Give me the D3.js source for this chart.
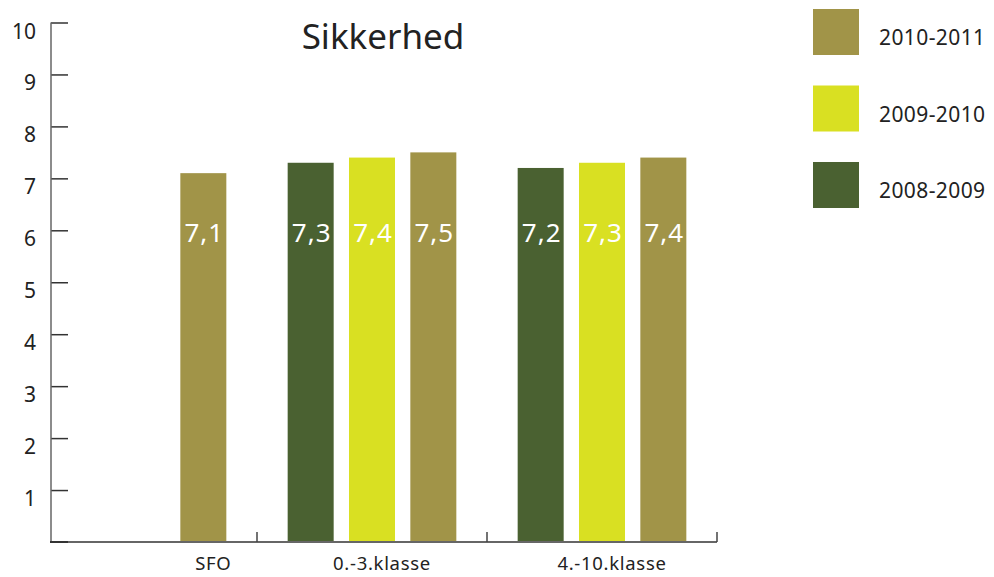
<!DOCTYPE html>
<html>
<head>
<meta charset="utf-8">
<script src="https://cdn.jsdelivr.net/npm/d3@7"></script>
<style>
  body { margin: 0; background: #fff; }
  svg { display: block; font-family: "Noto Sans", sans-serif; }
</style>
</head>
<body>
<div id="chart"></div>
<script>
let categories = ["SFO", "0.-3.klasse", "4.-10.klasse"];
let series = ["2008-2009", "2009-2010", "2010-2011"];
let legendOrder = ["2010-2011", "2009-2010", "2008-2009"];
let colors = ["#4a6131", "#d9e022", "#a19448"];
// null = no bar for that year
let values2008 = [null, 7.3, 7.2];
let values2009 = [null, 7.4, 7.3];
let values2010 = [7.1, 7.5, 7.4];
let yTicks = [1, 2, 3, 4, 5, 6, 7, 8, 9, 10];

let width = 994;
let height = 577;
let axisX = 51;
let axisY = 542;

let chart = d3.select("#chart")
  .append("svg")
  .attr("width", width)
  .attr("height", height);

let yscale = d3.scaleLinear().domain([0, 10]).range([axisY, 22.5]);

let x0 = d3.scaleBand().domain(categories).range([27, 717]);
let x1 = d3.scaleBand().domain(series).range([0, x0.bandwidth()])
  .paddingInner(0.25).paddingOuter(0.5);
let color = d3.scaleOrdinal().domain(series).range(colors);

let rows = [];
categories.forEach(function(c, i) {
  [values2008, values2009, values2010].forEach(function(arr, j) {
    if (arr[i] != null) rows.push({cat: c, s: series[j], v: arr[i]});
  });
});

// bars
chart.selectAll("rect.bar")
  .data(rows)
  .enter()
  .append("rect")
  .attr("class", "bar")
  .attr("x", d => x0(d.cat) + x1(d.s))
  .attr("y", d => yscale(d.v))
  .attr("width", x1.bandwidth())
  .attr("height", d => axisY - yscale(d.v))
  .attr("fill", d => color(d.s));

// value labels
chart.selectAll("text.val")
  .data(rows)
  .enter()
  .append("text")
  .attr("class", "val")
  .attr("x", d => x0(d.cat) + x1(d.s) + x1.bandwidth() / 2 + 1)
  .attr("y", 242)
  .attr("text-anchor", "middle")
  .attr("fill", "#fff")
  .attr("font-size", 26)
  .attr("letter-spacing", 1)
  .text(d => String(d.v).replace(".", ","));

// y axis
let yAxis = d3.axisRight(yscale).tickValues(yTicks).tickSize(17).tickFormat("");
let gy = chart.append("g")
  .attr("transform", "translate(" + axisX + ",0)")
  .call(yAxis);
gy.select(".domain").remove();
gy.selectAll(".tick line").attr("stroke", "#333").attr("stroke-width", 1.5);
chart.append("line")
  .attr("x1", axisX).attr("x2", axisX)
  .attr("y1", yscale(10)).attr("y2", axisY)
  .attr("stroke", "#666").attr("stroke-width", 1.5);

chart.selectAll("text.ytick")
  .data(yTicks)
  .enter()
  .append("text")
  .attr("class", "ytick")
  .attr("x", 36)
  .attr("y", d => yscale(d) + 16)
  .attr("text-anchor", "end")
  .attr("fill", "#222")
  .attr("font-size", 21)
  .text(d => d);

// x axis
chart.append("line")
  .attr("x1", axisX - 1).attr("x2", x0.range()[1])
  .attr("y1", axisY).attr("y2", axisY)
  .attr("stroke", "#666").attr("stroke-width", 2);
chart.append("line")
  .attr("x1", axisX - 1).attr("x2", axisX + 17)
  .attr("y1", axisY).attr("y2", axisY)
  .attr("stroke", "#333").attr("stroke-width", 2);

let boundaries = categories.slice(1).map(c => x0(c)).concat([x0.range()[1]]);
chart.selectAll("line.xtick")
  .data(boundaries)
  .enter()
  .append("line")
  .attr("class", "xtick")
  .attr("x1", d => d).attr("x2", d => d)
  .attr("y1", axisY - 10).attr("y2", axisY)
  .attr("stroke", "#444").attr("stroke-width", 1.5);

chart.selectAll("text.cat")
  .data(categories)
  .enter()
  .append("text")
  .attr("class", "cat")
  .attr("x", function(c) {
    let present = rows.filter(r => r.cat === c);
    let xs = present.map(r => x0(c) + x1(r.s) + x1.bandwidth() / 2);
    return (d3.min(xs) + d3.max(xs)) / 2 + 10;
  })
  .attr("y", 570)
  .attr("text-anchor", "middle")
  .attr("fill", "#222")
  .attr("font-size", 18.5)
  .attr("letter-spacing", 0.7)
  .text(d => d);

// title
chart.append("text")
  .attr("x", 383)
  .attr("y", 49)
  .attr("text-anchor", "middle")
  .attr("fill", "#222")
  .attr("font-size", 35)
  .text("Sikkerhed");

// legend
let legend = chart.selectAll("g.legend")
  .data(legendOrder)
  .enter()
  .append("g")
  .attr("class", "legend")
  .attr("transform", (d, i) => "translate(813," + (9 + i * 76.5) + ")");
legend.append("rect")
  .attr("width", 46).attr("height", 46)
  .attr("fill", d => color(d));
legend.append("text")
  .attr("x", 66)
  .attr("y", 36)
  .attr("fill", "#222")
  .attr("font-size", 21)
  .attr("letter-spacing", 0.4)
  .text(d => d);
</script>
</body>
</html>
